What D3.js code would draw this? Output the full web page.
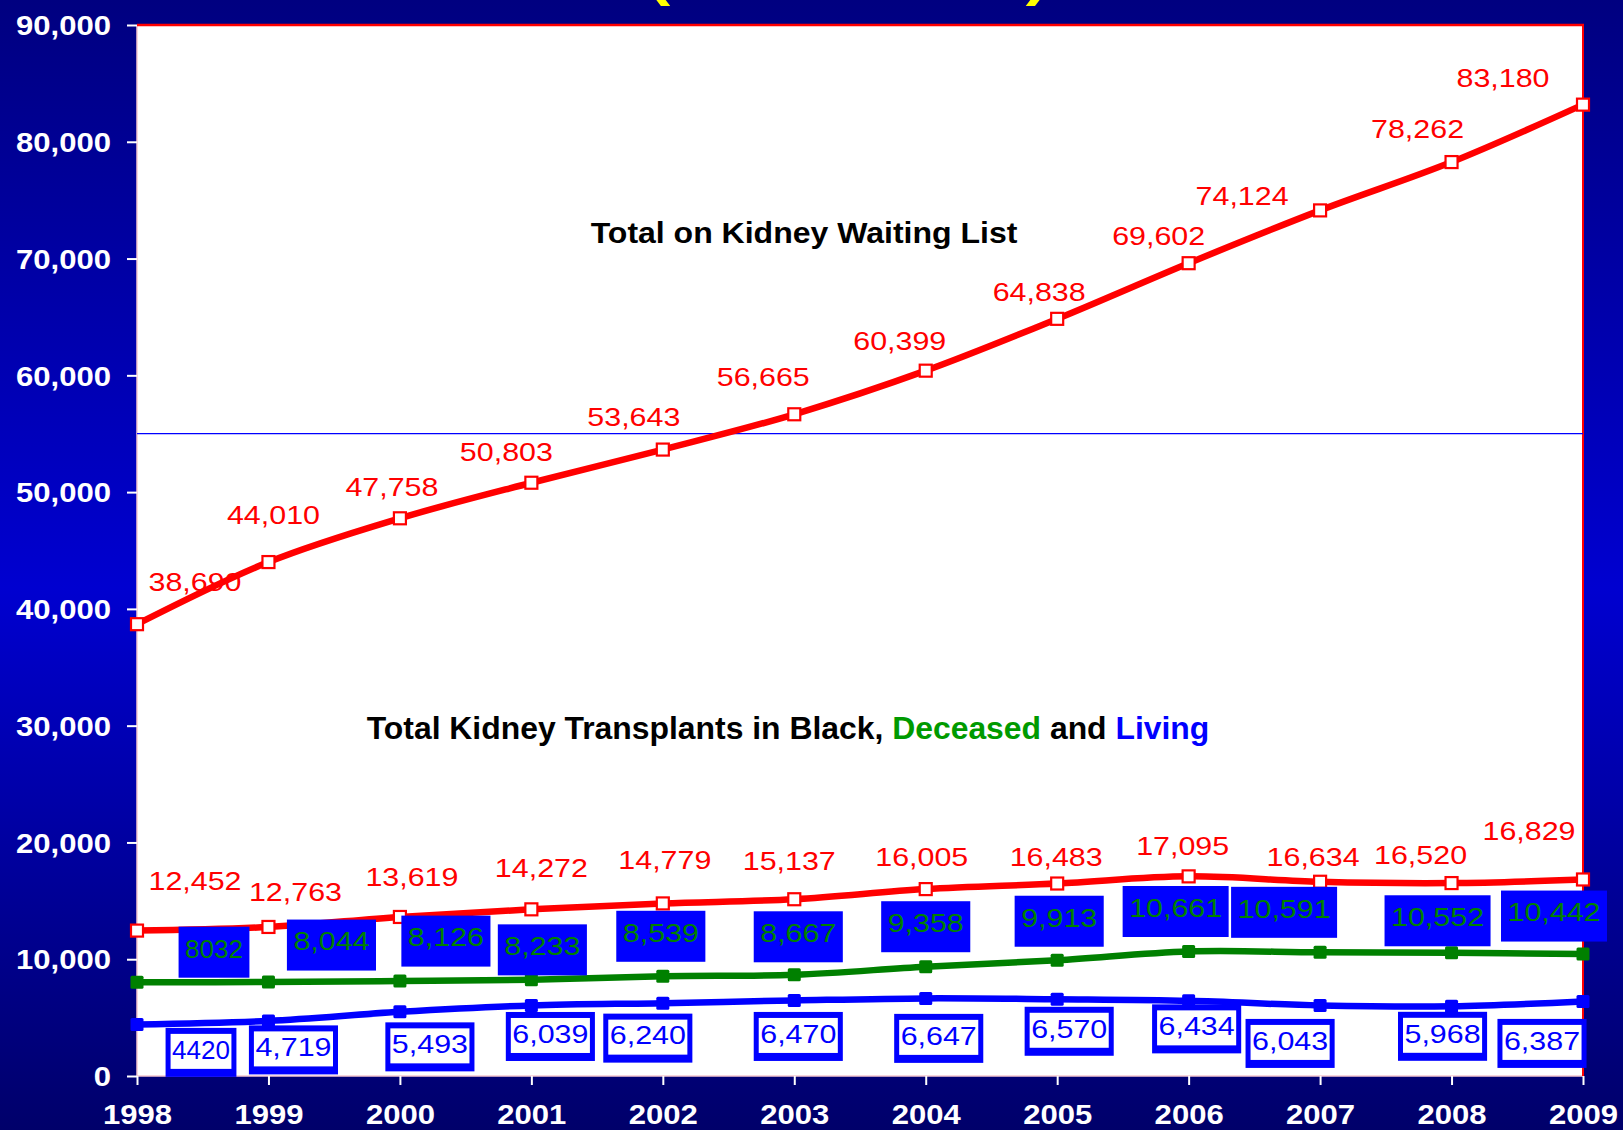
<!DOCTYPE html>
<html>
<head>
<meta charset="utf-8">
<script src="https://cdn.jsdelivr.net/npm/d3@7"></script>
<style>
html, body { margin: 0; padding: 0; background: #000080; }
svg { display: block; }
text { font-family: "Liberation Sans", Arial, sans-serif; }
</style>
</head>
<body>
<svg id="chart" width="1623" height="1130"></svg>
<script>
// data
const years = [1998, 1999, 2000, 2001, 2002, 2003, 2004, 2005, 2006, 2007, 2008, 2009];
const waitingList = [38690, 44010, 47758, 50803, 53643, 56665, 60399, 64838, 69602, 74124, 78262, 83180];
const totalTransplants = [12452, 12763, 13619, 14272, 14779, 15137, 16005, 16483, 17095, 16634, 16520, 16829];
const deceasedDonor = [8032, 8044, 8126, 8233, 8539, 8667, 9358, 9913, 10661, 10591, 10552, 10442];
const livingDonor = [4420, 4719, 5493, 6039, 6240, 6470, 6647, 6570, 6434, 6043, 5968, 6387];
const yTicks = [0, 10000, 20000, 30000, 40000, 50000, 60000, 70000, 80000, 90000];
const referenceValue = 55000;

// label nudges in px from each point (layout only)
const waitNudge = [[58,-43],[5,-47],[-8,-32],[-25,-31],[-29,-33],[-31,-38],[-26,-30],[-18,-27],[-30,-28],[-78,-15],[-34,-33],[-80,-27]];
const totalNudge = [[58,-50],[27,-35],[12,-40],[10,-42],[2,-44],[-5,-39],[-4,-32],[-1,-27],[-6,-31],[-7,-25],[-31,-28],[-54,-49]];
const deceasedNudge = [[77,-30],[63,-37],[46,-40],[11,-30],[-2,-40],[4,-38],[0,-40],[2,-39],[-13,-40],[-36,-40],[-14,-32],[-29,-38]];
const livingNudge = [[64,28],[25,29],[30,35],[19,31],[-15,35],[4,36],[13,40],[12,32],[8,28],[-30,38],[-9,30],[-41,42]];

const RED = "#FF0000", GREEN = "#008000", BLUE = "#0000FF";
const W = 1623, H = 1130;
const plot = {left: 137, right: 1583, top: 25, bottom: 1076};

const svg = d3.select("#chart");

const x = d3.scaleLinear().domain([1998, 2009]).range([plot.left, plot.right]);
const y = d3.scaleLinear().domain([0, 90000]).range([plot.bottom, plot.top]);

// background gradient
const grad = svg.append("defs").append("linearGradient")
    .attr("id", "bg").attr("x1", 0).attr("y1", 0).attr("x2", 0).attr("y2", 1);
grad.append("stop").attr("offset", "0%").attr("stop-color", "#000080");
grad.append("stop").attr("offset", "52%").attr("stop-color", "#0000D0");
grad.append("stop").attr("offset", "100%").attr("stop-color", "#00006A");
svg.append("rect").attr("width", W).attr("height", H).attr("fill", "url(#bg)");

// stretch a text horizontally to a target width around (cx, baseline)
function fitText(t, cx, by, target) {
    const k = target / t.node().getComputedTextLength();
    t.attr("text-anchor", "middle").attr("transform", `translate(${cx},${by}) scale(${k},1)`);
}

// slide title, mostly above the visible area
const title = svg.append("text")
    .attr("font-size", 52).attr("font-weight", "bold").attr("fill", "#FFFF00")
    .text("(1998 - 2009)");
fitText(title, 848, -5, 400);

// plot area
svg.append("rect")
    .attr("x", plot.left).attr("y", plot.top)
    .attr("width", plot.right - plot.left).attr("height", plot.bottom - plot.top)
    .attr("fill", "#FFFFFF");

svg.append("line").attr("x1", plot.left).attr("x2", plot.left).attr("y1", plot.top).attr("y2", plot.bottom)
    .attr("stroke", "#F6C8D0").attr("stroke-width", 1.5);
svg.append("line").attr("x1", plot.left).attr("x2", plot.right).attr("y1", plot.bottom).attr("y2", plot.bottom)
    .attr("stroke", "#F6C8D0").attr("stroke-width", 1.5);
svg.append("line").attr("x1", plot.left).attr("x2", plot.right + 1).attr("y1", plot.top).attr("y2", plot.top)
    .attr("stroke", RED).attr("stroke-width", 2.5);
svg.append("line").attr("x1", plot.right).attr("x2", plot.right).attr("y1", plot.top).attr("y2", plot.bottom)
    .attr("stroke", RED).attr("stroke-width", 2);

// thin blue reference line
svg.append("line")
    .attr("x1", plot.left).attr("x2", plot.right)
    .attr("y1", y(referenceValue)).attr("y2", y(referenceValue))
    .attr("stroke", BLUE).attr("stroke-width", 1.3);

// axes
const TICK_K = 1.15;
const yAxis = svg.append("g")
    .attr("transform", `translate(${plot.left},0)`)
    .call(d3.axisLeft(y).tickValues(yTicks).tickFormat(d3.format(",")).tickSize(10).tickPadding(26));
const xAxis = svg.append("g")
    .attr("transform", `translate(0,${plot.bottom})`)
    .call(d3.axisBottom(x).tickValues(years).tickFormat(d3.format("d")).tickSize(9));

[yAxis, xAxis].forEach(a => {
    a.select(".domain").remove();
    a.selectAll(".tick line").attr("stroke", "#FFFFFF").attr("stroke-width", 2);
    a.selectAll(".tick text")
        .attr("fill", "#FFFFFF").attr("font-size", 27).attr("font-weight", "bold")
        .attr("font-family", "'Liberation Sans', Arial, sans-serif");
});
yAxis.selectAll(".tick text")
    .attr("x", 0).attr("dy", "0.36em")
    .attr("transform", `translate(-26,0) scale(${TICK_K},1)`);
xAxis.selectAll(".tick text")
    .attr("y", 0).attr("dy", "0.36em")
    .attr("transform", `translate(0,38.5) scale(${TICK_K},1)`);

// series
const series = [
    {values: waitingList, color: RED, hollow: true, width: 6.5},
    {values: totalTransplants, color: RED, hollow: true, width: 6.5},
    {values: deceasedDonor, color: GREEN, hollow: false, width: 6.5},
    {values: livingDonor, color: BLUE, hollow: false, width: 6.5}
];

const line = d3.line()
    .x((d, i) => x(years[i]))
    .y(d => y(d))
    .curve(d3.curveCatmullRom.alpha(0));

const linesG = svg.append("g");
series.forEach(s => {
    linesG.append("path")
        .datum(s.values)
        .attr("d", line)
        .attr("fill", "none")
        .attr("stroke", s.color)
        .attr("stroke-width", s.width)
        .attr("stroke-linejoin", "round");
});

const markersG = svg.append("g");
series.forEach(s => {
    markersG.selectAll(null)
        .data(s.values)
        .enter().append("rect")
        .attr("x", (d, i) => x(years[i]) - (s.hollow ? 6 : 6.5))
        .attr("y", d => y(d) - (s.hollow ? 6 : 6.5))
        .attr("width", s.hollow ? 12 : 13)
        .attr("height", s.hollow ? 12 : 13)
        .attr("rx", s.hollow ? 0 : 1.5)
        .attr("fill", s.hollow ? "#FFFFFF" : s.color)
        .attr("stroke", s.color)
        .attr("stroke-width", s.hollow ? 2.2 : 0);
});

// data labels
const LABEL_SIZE = 26;
const fmt = d3.format(",");
const stretchOf = txt => txt.indexOf(",") >= 0 ? 1.17 : 1;
const labelText = (v, i) => i === 0 && v < 10000 ? String(v) : fmt(v);

function plainLabels(values, nudge, color) {
    const g = svg.append("g");
    values.forEach((v, i) => {
        const txt = fmt(v);
        const cx = x(years[i]) + nudge[i][0];
        const cy = y(v) + nudge[i][1];
        g.append("text")
            .attr("text-anchor", "middle").attr("dy", "0.36em")
            .attr("font-size", LABEL_SIZE).attr("fill", color)
            .attr("transform", `translate(${cx},${cy}) scale(${stretchOf(txt)},1)`)
            .text(txt);
    });
}

function boxedLabels(values, nudge, framed) {
    const g = svg.append("g");
    values.forEach((v, i) => {
        const txt = labelText(v, i);
        const k = stretchOf(txt);
        const cx = x(years[i]) + nudge[i][0];
        const cy = y(v) + nudge[i][1];
        const lg = g.append("g").attr("transform", `translate(${cx},${cy})`);
        const box = lg.append("g");
        const t = lg.append("text")
            .attr("text-anchor", "middle").attr("dy", "0.36em")
            .attr("font-size", LABEL_SIZE)
            .attr("fill", framed ? BLUE : GREEN)
            .attr("transform", `translate(0,${framed ? -3 : -4}) scale(${k},1)`)
            .text(txt);
        const w = t.node().getComputedTextLength() * k + 13;
        const h = framed ? 49 : 51;
        box.append("rect")
            .attr("x", -w / 2).attr("y", -h / 2).attr("width", w).attr("height", h)
            .attr("fill", BLUE);
        if (framed) {
            box.append("rect")
                .attr("x", -w / 2 + 5).attr("y", -h / 2 + 6)
                .attr("width", w - 10).attr("height", h - 14)
                .attr("fill", "#FFFFFF");
        }
    });
}

plainLabels(waitingList, waitNudge, RED);
plainLabels(totalTransplants, totalNudge, RED);
boxedLabels(deceasedDonor, deceasedNudge, false);
boxedLabels(livingDonor, livingNudge, true);

// in-chart captions
const cap1 = svg.append("text")
    .attr("font-size", 29.5).attr("font-weight", "bold").attr("fill", "#000000")
    .text("Total on Kidney Waiting List");
fitText(cap1, 804, 243, 427);

const cap2 = svg.append("text")
    .attr("font-size", 30.5).attr("font-weight", "bold").attr("fill", "#000000");
cap2.append("tspan").text("Total Kidney Transplants in Black, ");
cap2.append("tspan").attr("fill", "#009A00").text("Deceased");
cap2.append("tspan").text(" and ");
cap2.append("tspan").attr("fill", BLUE).text("Living");
fitText(cap2, 788, 739, 843);
</script>
</body>
</html>
